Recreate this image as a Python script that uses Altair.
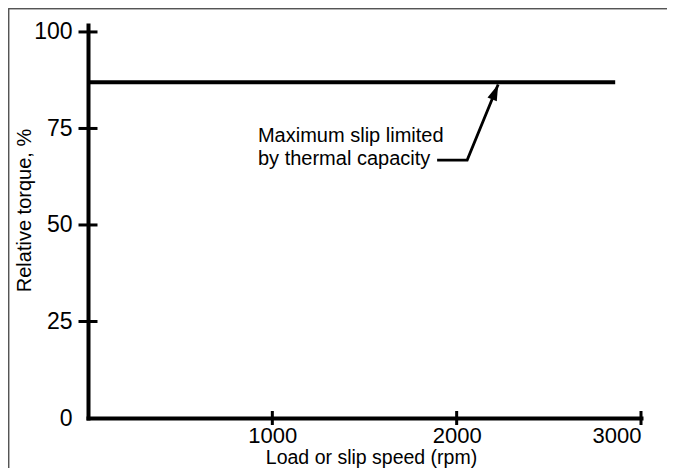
import altair as alt
import pandas as pd

# ---- data ----
line_x = [0, 2860]
line_y = [87, 87]
y_tick_values = [0, 25, 50, 75, 100]
y_cross_ticks = [25, 50, 75, 100]
x_tick_values = [1000, 2000, 3000]
ann_lines = ["Maximum slip limited", "by thermal capacity"]
ann_x = [922, 922]
ann_y = [71.5, 65.6]
leader_x = [1894, 2057, 2225]
leader_y = [66.8, 66.8, 86.4]
arrow_x = [2225]
arrow_y = [86.4]

FONT = "Liberation Sans"
xs = alt.Scale(domain=[0, 3000], nice=False, zero=False)
ys = alt.Scale(domain=[0, 101.8], nice=False, zero=False)

line_df = pd.DataFrame({"x": line_x, "y": line_y})
yt_df = pd.DataFrame({"x": [0] * len(y_cross_ticks), "y": y_cross_ticks})
xt_df = pd.DataFrame({"x": x_tick_values, "y": [0] * len(x_tick_values)})
ann_df = pd.DataFrame({"x": ann_x, "y": ann_y, "t": ann_lines})
lead_df = pd.DataFrame({"x": leader_x, "y": leader_y, "o": list(range(len(leader_x)))})
arr_df = pd.DataFrame({"x": arrow_x, "y": arrow_y})

x_axis = alt.Axis(
    values=x_tick_values, format="d", ticks=False, tickSize=0, domain=True, domainWidth=4,
    domainColor="black", domainCap="square", grid=False, labelFontSize=22,
    labelColor="black", labelFont=FONT, labelPadding=7,
    title="Load or slip speed (rpm)", titleFontSize=19.5, titleFont=FONT,
    titleFontWeight="normal", titleColor="black", titleX=283, titleY=45,
    titleBaseline="alphabetic",
)
y_axis = alt.Axis(
    values=y_tick_values, format="d", ticks=False, tickSize=0, domain=True, domainWidth=4,
    domainColor="black", domainCap="square", grid=False, labelFontSize=23,
    labelColor="black", labelFont=FONT, labelPadding=16,
    title="Relative torque, %", titleFontSize=20, titleFont=FONT,
    titleFontWeight="normal", titleColor="black", titleX=-58, titleY=185,
    titleBaseline="alphabetic", titleAngle=270,
)

X = lambda: alt.X("x:Q", scale=xs)
Y = lambda: alt.Y("y:Q", scale=ys)

main = alt.Chart(line_df).mark_line(color="black", strokeWidth=4).encode(
    x=alt.X("x:Q", scale=xs, axis=x_axis),
    y=alt.Y("y:Q", scale=ys, axis=y_axis),
)

yticks = alt.Chart(yt_df).mark_tick(
    color="black", opacity=1, orient="horizontal", size=19, thickness=3
).encode(x=X(), y=Y())
xticks = alt.Chart(xt_df).mark_tick(
    color="black", opacity=1, orient="vertical", size=14, thickness=3
).encode(x=X(), y=Y())

ann = alt.Chart(ann_df).mark_text(
    align="left", baseline="alphabetic", fontSize=20, font=FONT, color="black"
).encode(x=X(), y=Y(), text="t:N")

leader = alt.Chart(lead_df).mark_line(color="black", strokeWidth=2.8).encode(
    x=X(), y=Y(), order="o:Q"
)

arrow = alt.Chart(arr_df).mark_point(
    shape="M0,0 L-1.25,4 L1.25,4 Z", size=64, filled=True, color="black",
    opacity=1, strokeWidth=0, angle=22,
).encode(x=X(), y=Y())

frame_top = alt.Chart(line_df).mark_rule(color="#555555", strokeWidth=1.5).encode(
    x=alt.value(-79.5), x2=alt.value(620), y=alt.value(-16.5)
)
frame_left = alt.Chart(line_df).mark_rule(color="#555555", strokeWidth=1.5).encode(
    x=alt.value(-79.5), y=alt.value(-16.5), y2=alt.value(480)
)

chart = alt.layer(main, frame_top, frame_left, leader, arrow, ann, yticks, xticks).properties(
    width=553, height=393,
    autosize=alt.AutoSizeParams(type="none"),
    padding={"left": 80, "top": 17, "right": 26, "bottom": 50},
).configure_view(stroke=None)

chart.save("out.html", embed_options={"renderer": "svg", "actions": False})
